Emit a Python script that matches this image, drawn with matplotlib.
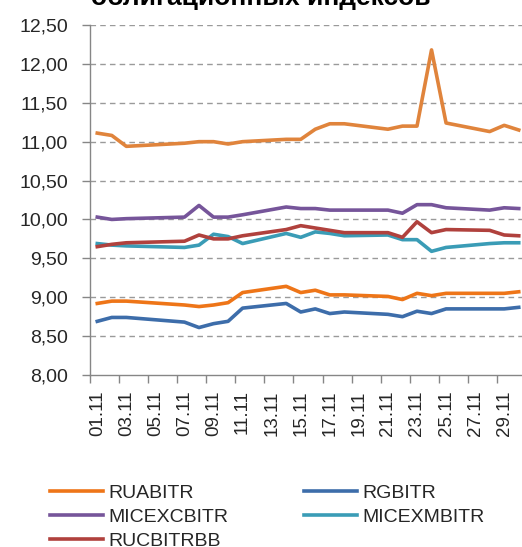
import matplotlib
matplotlib.use("Agg")
import matplotlib.pyplot as plt
from matplotlib.ticker import FixedLocator, FuncFormatter, NullFormatter

plt.rcParams['font.family'] = ['Liberation Sans', 'DejaVu Sans']

# trading days of November (day of month)
days = [1, 2, 3, 7, 8, 9, 10, 11, 14, 15, 16, 17, 18, 21, 22, 23, 24, 25, 28, 29, 30]

# upper orange series (its legend entry is cut off in the source)
top_series = [11.11, 11.08, 10.94, 10.98, 11.00, 11.00, 10.97, 11.00, 11.03, 11.03, 11.16,
              11.23, 11.23, 11.16, 11.20, 11.20, 12.18, 11.24, 11.13, 11.21, 11.15]
ruabitr = [8.92, 8.95, 8.95, 8.90, 8.88, 8.90, 8.93, 9.06, 9.14, 9.06, 9.09,
           9.03, 9.03, 9.01, 8.97, 9.05, 9.02, 9.05, 9.05, 9.05, 9.07]
rgbitr = [8.69, 8.74, 8.74, 8.68, 8.61, 8.66, 8.69, 8.86, 8.92, 8.81, 8.85,
          8.79, 8.81, 8.78, 8.75, 8.82, 8.79, 8.85, 8.85, 8.85, 8.87]
micexcbitr = [10.03, 10.00, 10.01, 10.03, 10.18, 10.03, 10.03, 10.06, 10.16, 10.14, 10.14,
              10.12, 10.12, 10.12, 10.08, 10.19, 10.19, 10.15, 10.12, 10.15, 10.14]
micexmbitr = [9.69, 9.67, 9.66, 9.64, 9.67, 9.81, 9.78, 9.69, 9.82, 9.77, 9.84,
              9.82, 9.79, 9.80, 9.74, 9.74, 9.59, 9.64, 9.69, 9.70, 9.70]
rucbitrbb = [9.65, 9.68, 9.70, 9.72, 9.80, 9.75, 9.75, 9.79, 9.87, 9.92, 9.89,
             9.86, 9.83, 9.83, 9.77, 9.97, 9.83, 9.87, 9.86, 9.80, 9.79]

tick_days = list(range(1, 30, 2))
tick_labels = ["%02d.11" % d for d in tick_days]

fig = plt.figure(figsize=(5.22, 5.47), dpi=100)
ax = fig.add_axes([90 / 522, 1 - 375 / 547, 436 / 522, 350 / 547])

lw = 2.6
ax.plot(days, top_series, color='#E0843C', lw=lw)
l_rua, = ax.plot(days, ruabitr, color='#EE7518', lw=lw, label='RUABITR')
l_rgb, = ax.plot(days, rgbitr, color='#3D6DAA', lw=lw, label='RGBITR')
l_cb, = ax.plot(days, micexcbitr, color='#76559A', lw=lw, label='MICEXCBITR')
l_mb, = ax.plot(days, micexmbitr, color='#3A9CB6', lw=lw, label='MICEXMBITR')
l_bb, = ax.plot(days, rucbitrbb, color='#B0413D', lw=lw, label='RUCBITRBB')

ax.set_xlim(0.5, 30.5)
ax.set_ylim(8.0, 12.5)

yt = [8.0 + 0.5 * i for i in range(10)]
ax.set_yticks(yt)
ax.yaxis.set_major_formatter(FuncFormatter(lambda v, p: ("%.2f" % v).replace('.', ',')))
for y in yt[1:]:
    ax.axhline(y, color='#9a9a9a', lw=1.0, dashes=(4, 3), zorder=0)

# ticks between categories, labels on odd days
ax.xaxis.set_major_locator(FixedLocator([d - 0.5 for d in range(1, 32, 2)]))
ax.xaxis.set_major_formatter(NullFormatter())
ax.xaxis.set_minor_locator(FixedLocator(tick_days))
ax.set_xticks(tick_days, tick_labels, minor=True, rotation=90)

ax.tick_params(axis='x', which='major', direction='out', length=6, width=1, color='#868686')
ax.tick_params(axis='x', which='minor', length=0, pad=11, labelsize=13.5, labelcolor='#262626')
ax.tick_params(axis='y', direction='out', length=6, width=1, color='#868686',
               pad=10, labelsize=14, labelcolor='#262626')

for s in ['top', 'right']:
    ax.spines[s].set_visible(False)
for s in ['left', 'bottom']:
    ax.spines[s].set_color('#868686')
    ax.spines[s].set_linewidth(1.0)

fig.text(0.5, 1 - 5 / 547, "облигационных индексов", ha='center', va='baseline',
         fontsize=19, fontweight='bold', color='#000000')

fig.legend(handles=[l_rua, l_cb, l_bb, l_rgb, l_mb], ncol=2,
           loc='upper left', bbox_to_anchor=(50 / 522, 1 - 484 / 547),
           frameon=False, fontsize=14, handlelength=2.7, handletextpad=0.3,
           columnspacing=3.9, labelspacing=0.33, borderpad=0, borderaxespad=0,
           labelcolor='#262626')

fig.savefig("out.png", dpi=100)
